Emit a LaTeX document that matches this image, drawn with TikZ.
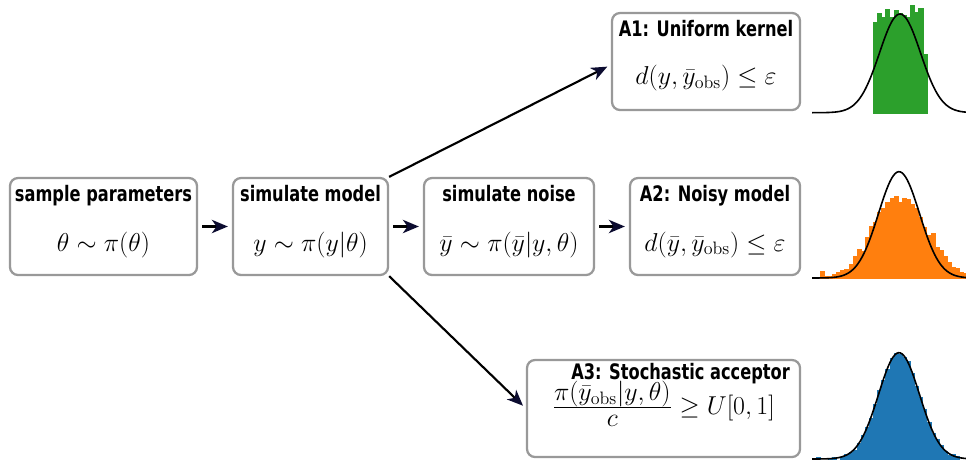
\documentclass[tikz,border=0pt]{standalone}
\usepackage{fontspec}
\newfontfamily\titlefont[FakeStretch=0.76]{DejaVu Sans}
\usetikzlibrary{arrows.meta}

\definecolor{boxgray}{RGB}{153,153,153}
\definecolor{tipnavy}{RGB}{12,12,48}
\definecolor{unigreen}{HTML}{2CA02C}
\definecolor{noisyorange}{HTML}{FF7F0E}
\definecolor{stochblue}{HTML}{1F77B4}

\tikzset{
  stagebox/.style={draw=boxgray, line width=1.7pt, rounded corners=6pt,
                   minimum height=72.75pt, inner sep=0pt},
  stagetitle/.style={anchor=base, inner sep=0pt,
                     font=\titlefont\bfseries\fontsize{16}{18}\selectfont},
  stageeq/.style={anchor=base, inner sep=0pt, font=\fontsize{17.28}{20}\selectfont,
                  scale=1.123, transform shape},
  flow/.style={line width=1.6pt,
               -{Stealth[length=12pt,width=10pt,inset=3.5pt,color=tipnavy]}},
  gauss/.style={line width=1.2pt, line join=round},
}

\begin{document}
\begin{tikzpicture}[x=0.75pt, y=-0.75pt]
   \useasboundingbox (0,0) rectangle (966,461);

   % boxes
   \node[stagebox, minimum width=140.25pt] (sample) at (103.5,226.5) {};
   \node[stagebox, minimum width=116.25pt] (model)  at (310.5,226.5) {};
   \node[stagebox, minimum width=127.5pt]  (noise)  at (509,226.5)   {};
   \node[stagebox, minimum width=127.5pt]  (noisy)  at (715,226.5)   {};
   \node[stagebox, minimum width=141pt]    (unif)   at (706,61.5)    {};
   \node[stagebox, minimum width=204.75pt] (stoch)  at (663.5,408.5) {};

   \node[stagetitle] (sampleT) at (103.5,201.5) {sample parameters};
   \node[stagetitle] (modelT)  at (310.5,201.5) {simulate model};
   \node[stagetitle] (noiseT)  at (509,201.5)   {simulate noise};
   \node[stagetitle] (noisyT)  at (715,201.5)   {A2: Noisy model};
   \node[stagetitle] (unifT)   at (706,36.5)    {A1: Uniform kernel};
   \node[stagetitle, anchor=base east] (stochT) at (790,379) {A3: Stochastic acceptor};

   \node[stageeq] (sampleM) at (103.5,251) {$\theta \sim \pi(\theta)$};
   \node[stageeq] (modelM)  at (310.5,251) {$y \sim \pi(y|\theta)$};
   \node[stageeq] (noiseM)  at (509,251)   {$\bar{y} \sim \pi(\bar{y}|y,\theta)$};
   \node[stageeq] (noisyM)  at (715,251)   {$d(\bar{y},\bar{y}_{\mathrm{obs}}) \leq \varepsilon$};
   \node[stageeq] (unifM)   at (706,84.5)  {$d(y,\bar{y}_{\mathrm{obs}}) \leq \varepsilon$};
   \node[stageeq] (stochM)  at (663.5,414) {$\frac{\displaystyle\pi(\bar{y}_{\mathrm{obs}}|y,\theta)}{\displaystyle c\rule{0pt}{12.2pt}} \geq U[0,1]$};

   % arrows
   \draw[flow, shorten <=3pt, shorten >=3pt] (sample) -- (model);
   \draw[flow, shorten <=3pt, shorten >=3pt] (model) -- (noise);
   \draw[flow, shorten <=3pt, shorten >=3pt] (noise) -- (noisy);
   \draw[flow, shorten >=3pt] (model.north east) -- ([yshift=-2.5pt]unif.west);
   \draw[flow, shorten >=3pt] (model.south east) -- (stoch.west);

   % histograms
   \foreach \i/\t in {0/22,1/13.3,2/17.3,3/9.3,4/17.3,5/10.3,6/12.7,7/14.7,8/16.7,9/5,10/11.7,11/8,12/54} {
     \fill[unigreen, draw=unigreen, line width=0.2pt] ({873+4.14*\i},112.7) rectangle ({873+4.14*(\i+1)},\t);
   }
   \foreach \i/\t in {2/271,3/275.7,4/275.7,5/274.3,6/272.3,7/270,8/269,9/264,10/255.7,11/249,12/251,
                      13/236.7,14/226,15/221.7,16/211.7,17/208.3,18/201.7,19/197.7,20/196,21/202.3,
                      22/198.3,23/199.3,24/204.3,25/208.3,26/216.7,27/226.7,28/235,29/233.3,30/246.7,
                      31/250,32/256,33/261.7,34/266.7,35/268.3,36/272.3,37/273.3} {
     \fill[noisyorange, draw=noisyorange, line width=0.2pt] ({811.8+4.1*\i},278) rectangle ({811.8+4.1*(\i+1)},\t);
   }
   \foreach \i in {0,...,37} {
     \pgfmathsetmacro\h{106*exp(-((813.85+4.1*\i-899)^2)/840.5)+1.5*sin(\i*97)}
     \ifdim\h pt>0.6pt
       \fill[stochblue, draw=stochblue, line width=0.2pt] ({811.8+4.1*\i},459) rectangle ({811.8+4.1*(\i+1)},{459-\h});
     \fi
   }

   \draw[gauss] plot[domain=812:966, samples=90, smooth] (\x,{112.7-98.7*exp(-((\x-900)^2)/840.5)});
   \draw[gauss] plot[domain=812:966, samples=90, smooth] (\x,{278-106.3*exp(-((\x-899)^2)/840.5)});
   \draw[gauss] plot[domain=812:966, samples=90, smooth] (\x,{459-106.3*exp(-((\x-899)^2)/840.5)});
\end{tikzpicture}
\end{document}
